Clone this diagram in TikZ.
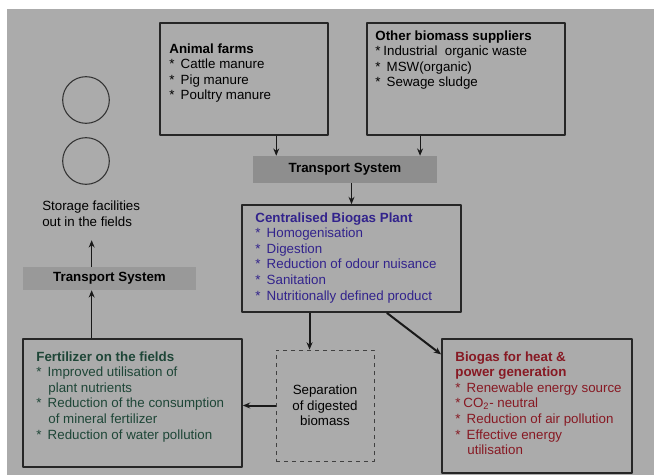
\documentclass[tikz,border=0pt]{standalone}
\usepackage{fontspec}
\setmainfont{Liberation Sans}
\usetikzlibrary{calc,arrows.meta}
\definecolor{bggray}{HTML}{ABABAB}
\definecolor{transgray}{HTML}{8E8E8E}
\definecolor{transgraylt}{HTML}{999999}
\definecolor{plantblue}{RGB}{50,35,140}
\definecolor{fertgreen}{RGB}{30,70,55}
\definecolor{gasred}{RGB}{135,25,35}
\newcommand{\itm}{\makebox[8.5pt][l]{*}}
\newcommand{\ind}{\hspace*{9pt}}
\begin{document}
\begin{tikzpicture}[x=0.75pt, y=-0.75pt, font=\fontsize{10}{11.7}\selectfont, line join=round, >={Stealth[length=5.5pt,width=4.5pt]}]
			\tikzset{frame/.style={draw=black!85, line width=1.3pt, inner sep=0pt},
				transbox/.style={fill=transgray, inner sep=0pt, font=\fontsize{10}{11.7}\selectfont\bfseries},
				boxtxt/.style={anchor=north west, align=left, inner sep=0pt},
				arr/.style={->, line width=0.8pt, draw=black!90},
				thickarr/.style={->, line width=1.5pt, draw=black!90}}
			% Hintergrund
			\useasboundingbox (0,0) rectangle (654,475);
			\fill[bggray] (7,9) rectangle (654,475);
			% Lager
			\node[circle, draw=black!80, line width=0.8pt, minimum size=35pt] (tank1) at (86,100) {};
			\node[circle, draw=black!80, line width=0.8pt, minimum size=35pt] (tank2) at (86,161) {};
			\node[boxtxt] (store) at (42,201) {Storage facilities\\out in the fields};
			% Kaesten
			\node[frame, minimum width=126pt, minimum height=84pt] (farms) at (244,79) {};
			\node[frame, minimum width=148.5pt, minimum height=84pt] (other) at (466,79) {};
			\node[transbox, minimum width=138pt, minimum height=20.25pt] (trans1) at (345,169.5) {Transport System};
			\node[frame, minimum width=164.25pt, minimum height=80.25pt] (plant) at (351.5,258.5) {};
			\node[transbox, fill=transgraylt, minimum width=129.75pt, minimum height=17.25pt] (trans2) at (109.5,278.5) {Transport System};
			\node[frame, minimum width=164.25pt, minimum height=96pt] (fert) at (132.5,403) {};
			\node[draw=black!75, dashed, line width=0.6pt, minimum width=73.5pt, minimum height=83.25pt, align=center] (sep) at (325,405.5) {Separation\\of digested\\biomass};
			\node[frame, minimum width=142.5pt, minimum height=100.5pt] (biogas) at (537,406) {};
			% Texte
			\node[boxtxt] (farmstxt) at ($(farms.north west)+(10,21)$) {\textbf{Animal farms}\\\itm Cattle manure\\\itm Pig manure\\\itm Poultry manure};
			\node[boxtxt] (othertxt) at ($(other.north west)+(9,8)$) {\textbf{Other biomass suppliers}\\\makebox[6pt][l]{*}Industrial\ \ organic waste\\\itm MSW(organic)\\\itm Sewage sludge};
			\node[boxtxt, text=plantblue] (planttxt) at ($(plant.north west)+(14,8)$) {\textbf{Centralised Biogas Plant}\\\itm Homogenisation\\\itm Digestion\\\itm Reduction of odour nuisance\\\itm Sanitation\\\itm Nutritionally defined product};
			\node[boxtxt, text=fertgreen] (serttxt) at ($(fert.north west)+(14,13)$) {\textbf{Fertilizer on the fields}\\\itm Improved utilisation of\\\ind plant nutrients\\\itm Reduction of the consumption\\\ind of mineral fertilizer\\\itm Reduction of water pollution};
			\node[boxtxt, text=gasred] (gastxt) at ($(biogas.north west)+(14,13)$) {\textbf{Biogas for heat \&}\\\textbf{power generation}\\\itm Renewable energy source\\\makebox[6pt][l]{*}CO\textsubscript{2}- neutral\\\itm Reduction of air pollution\\\itm Effective energy\\\ind utilisation};
			% Pfeile
			\coordinate (f1) at ($(farms.south west)!.69!(farms.south east)$);
			\coordinate (o1) at ($(other.south west)!.27!(other.south east)$);
			\coordinate (p1) at ($(plant.south west)!.31!(plant.south east)$);
			\coordinate (p2) at ($(plant.south west)!.66!(plant.south east)$);
			\coordinate (g1) at ($(biogas.north west)!.12!(biogas.south west)$);
			\coordinate (e1) at ($(fert.north west)!.315!(fert.north east)$);
			\draw[arr] (f1) -- (f1 |- trans1.north);
			\draw[arr] (o1) -- (o1 |- trans1.north);
			\draw[arr] (plant.north |- trans1.south) -- (plant.north);
			\draw[thickarr] (p1) -- (p1 |- sep.north);
			\draw[thickarr] (p2) -- (g1);
			\draw[thickarr] (sep.west) -- (sep.west -| fert.east);
			\draw[arr] (e1) -- (e1 |- trans2.south);
			\draw[arr, shorten >=10pt] (e1 |- trans2.north) -- (e1 |- store.south);
		\end{tikzpicture}
\end{document}
